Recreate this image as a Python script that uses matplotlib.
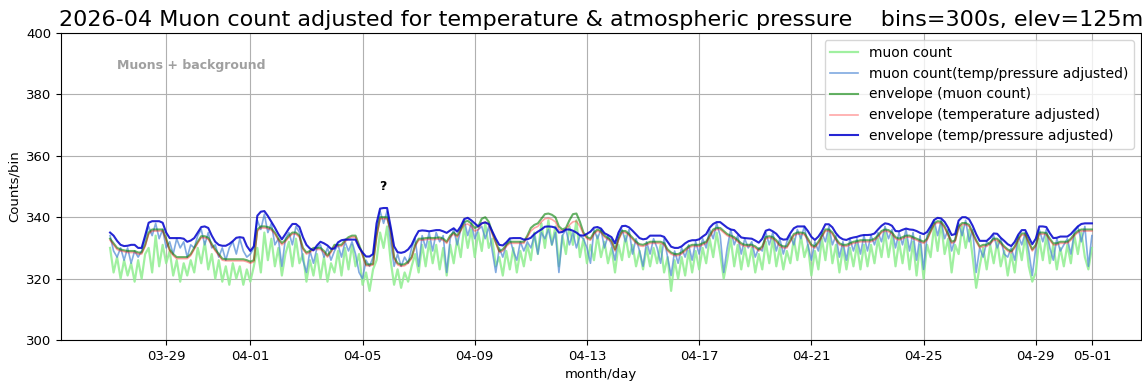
import matplotlib
matplotlib.use("Agg")
import matplotlib.pyplot as plt
import matplotlib.dates as mdates
import pandas as pd

# 3-hour samples, 2026-03-27 00:00 .. 2026-05-01 00:00 (one row per day)
times = pd.date_range("2026-03-27", "2026-05-01", freq="3h")

muon_count = [
    330, 322, 327, 320, 326, 321, 325, 319,
    326, 320, 328, 330, 322, 334, 324, 331,
    325, 329, 321, 326, 319, 325, 321, 326,
    322, 330, 325, 332, 323, 328, 320, 326,
    319, 324, 318, 325, 320, 324, 318, 323,
    319, 324, 330, 322, 335, 326, 333, 324,
    330, 321, 328, 332, 324, 333, 325, 328,
    319, 326, 321, 328, 320, 327, 319, 325,
    322, 329, 321, 330, 323, 331, 324, 328,
    318, 322, 316, 323, 326, 335, 330, 337,
    326, 318, 323, 317, 322, 319, 324, 328,
    322, 331, 324, 332, 325, 331, 323, 330,
    321, 331, 325, 333, 327, 337, 330, 336,
    327, 335, 329, 338, 330, 333, 324, 327,
    321, 329, 323, 330, 322, 329, 324, 331,
    326, 335, 328, 338, 330, 339, 331, 337,
    324, 334, 328, 337, 331, 339, 327, 333,
    325, 331, 326, 334, 327, 332, 325, 330,
    322, 331, 326, 334, 327, 331, 324, 329,
    323, 330, 324, 330, 325, 331, 322, 327,
    316, 326, 320, 327, 321, 329, 322, 329,
    323, 330, 325, 333, 327, 335, 328, 320,
    326, 333, 324, 331, 323, 330, 324, 330,
    322, 328, 323, 332, 325, 333, 324, 330,
    323, 329, 325, 333, 326, 334, 327, 331,
    321, 329, 323, 333, 326, 335, 325, 331,
    322, 330, 323, 330, 324, 331, 323, 331,
    324, 331, 325, 333, 327, 335, 327, 334,
    324, 332, 325, 333, 323, 332, 321, 331,
    320, 331, 327, 337, 329, 338, 328, 333,
    322, 331, 328, 337, 330, 336, 327, 317,
    324, 330, 323, 331, 325, 332, 324, 329,
    321, 328, 322, 332, 326, 334, 324, 319,
    322, 333, 326, 334, 325, 331, 323, 330,
    324, 331, 325, 334, 328, 335, 327, 323,
    330,
]

muon_adj = [
    334, 329, 327, 330, 326, 330, 325, 329,
    327, 329, 333, 337, 334, 338, 333, 336,
    330, 332, 328, 333, 330, 332, 327, 331,
    330, 334, 336, 331, 335, 330, 331, 327,
    330, 326, 330, 332, 328, 333, 329, 327,
    328, 330, 339, 336, 341, 335, 338, 331,
    333, 324, 333, 335, 331, 337, 335, 326,
    322, 329, 325, 330, 331, 327, 330, 326,
    329, 331, 327, 332, 329, 332, 328, 322,
    320, 326, 324, 327, 336, 342, 338, 342,
    332, 324, 328, 324, 327, 325, 330, 333,
    324, 334, 330, 335, 329, 335, 332, 334,
    322, 333, 336, 331, 336, 339, 334, 338,
    333, 336, 337, 333, 337, 329, 322, 330,
    327, 331, 333, 329, 326, 332, 329, 332,
    330, 334, 328, 335, 333, 336, 331, 335,
    322, 334, 336, 331, 335, 330, 334, 333,
    330, 325, 336, 333, 336, 330, 334, 331,
    326, 334, 336, 332, 336, 328, 333, 329,
    324, 332, 328, 333, 330, 325, 333, 327,
    321, 329, 325, 330, 327, 331, 326, 332,
    328, 333, 330, 336, 333, 338, 334, 322,
    330, 336, 331, 334, 328, 333, 330, 332,
    327, 330, 329, 335, 331, 335, 329, 333,
    328, 332, 334, 331, 336, 333, 337, 331,
    326, 332, 329, 335, 332, 337, 331, 334,
    327, 332, 326, 333, 329, 333, 328, 334,
    329, 334, 331, 335, 332, 337, 333, 336,
    330, 335, 331, 336, 329, 335, 326, 334,
    323, 334, 336, 339, 334, 339, 333, 336,
    329, 333, 338, 334, 339, 332, 336, 322,
    330, 327, 332, 331, 334, 330, 333, 328,
    327, 330, 326, 334, 331, 335, 329, 321,
    330, 336, 332, 336, 330, 326, 333, 329,
    331, 333, 328, 335, 337, 332, 337, 324,
    334,
]

env_muon = [
    333, 331.5, 330, 329.5, 329.2, 329, 329, 329,
    328.5, 328.5, 331, 335, 336, 336, 336, 336,
    333, 329.5, 328, 327, 327, 327, 327, 328,
    330, 332, 333.8, 333.8, 333.3, 331.3, 329.5, 328,
    326.5, 326.3, 326.3, 326.3, 326.3, 326.3, 326.3, 326,
    325.5, 326, 336, 337, 337, 336.8, 336.3, 335,
    333, 331.6, 332.5, 334, 335, 335, 334, 330,
    328.5, 329, 330, 330, 330, 329, 327.5, 329,
    331, 331, 331, 332.5, 333.5, 334, 334, 331,
    328, 324.6, 324.6, 324.8, 334, 340, 340, 340,
    336, 327, 325, 324.5, 324.7, 325.5, 327, 331,
    333, 333, 333.2, 333.3, 333.2, 333.3, 333.4, 333,
    332, 334, 335, 334, 336, 338.5, 338.8, 338,
    336.5, 337, 339.5, 340, 338.5, 335, 332, 329,
    329.5, 331, 332, 332, 332, 332, 332, 334,
    336.5, 337.5, 338, 339.5, 341, 341.2, 340.8, 340,
    337, 336, 336.5, 339, 341, 341.2, 338.5, 335,
    333.5, 333, 335, 336, 335.5, 334, 333.2, 332.5,
    329.5, 333, 335.5, 335.5, 334.5, 333.3, 332, 331.2,
    331, 331.5, 332, 332, 332, 332, 331.5, 329.5,
    328.5, 328, 328, 328.5, 329.5, 330.5, 331, 331,
    331, 331.5, 332, 334, 336, 336.5, 336.5, 335.5,
    334.5, 334, 333.5, 332.5, 331.5, 331, 331, 331,
    330.5, 329.5, 330.5, 333.5, 333.8, 333.5, 332.5, 331,
    330.5, 330.5, 332.5, 334.5, 335, 335, 334.8, 333,
    331, 330.5, 332, 334, 336, 336, 335, 333,
    331.5, 331, 331, 331.5, 332, 332.2, 332.5, 332.5,
    332.5, 332.5, 333, 334, 335.5, 336, 335.8, 335,
    333.5, 333, 333.5, 334, 334, 333.5, 333, 332.5,
    332, 333, 335.5, 338, 338.7, 338.5, 337, 334.5,
    332, 332.5, 337, 338.1, 338.1, 337.5, 335, 332.5,
    330.5, 331, 331, 331.8, 333, 333, 331.8, 330.5,
    329.5, 328.9, 330.5, 333, 334.7, 334.7, 332, 329.5,
    331, 335, 335, 334.8, 333, 331.5, 331.5, 332,
    332, 332, 333, 334.5, 335.5, 336, 336, 336,
    336,
]

env_temp = [
    332.5, 331, 329.5, 329, 328.8, 328.5, 328.5, 328.5,
    328, 328, 330.5, 334.5, 335.5, 335.5, 335.5, 335.5,
    332.5, 329, 327.5, 326.5, 326.5, 326.5, 326.5, 327.5,
    329.5, 331.5, 333.3, 333.3, 332.8, 330.8, 329, 327.5,
    326, 325.8, 325.8, 325.8, 325.8, 325.8, 325.8, 325.5,
    325, 325.5, 335.5, 336.5, 336.5, 336.3, 335.8, 334.5,
    332.5, 331, 332, 333.5, 334.5, 334.5, 333.5, 329.5,
    328, 328.5, 329.5, 329.5, 329.5, 328.5, 327, 328.5,
    330.5, 330.5, 330.5, 332, 333, 333.5, 333.5, 330.5,
    327.5, 324.2, 324.2, 324.4, 333.5, 339.5, 339.5, 339.5,
    335.5, 326.5, 324.5, 324, 324.2, 325, 326.5, 330.5,
    332.5, 332.5, 332.7, 332.8, 332.7, 332.8, 332.9, 332.5,
    331.5, 333.5, 334.5, 333.5, 335.5, 337.5, 337.8, 337,
    335.5, 336, 338, 338.5, 337.5, 334.5, 331.5, 328.5,
    329, 330.5, 331.5, 331.5, 331.5, 331.5, 331.5, 333.5,
    335.5, 336.5, 337, 338.5, 339.5, 339.7, 339.3, 338.5,
    336, 335.5, 336, 337.5, 338.5, 338.7, 337, 334.5,
    333, 332.5, 334.5, 335.5, 335, 333.5, 332.7, 332,
    329, 332.5, 335, 335, 334, 332.8, 331.5, 330.7,
    330.5, 331, 331.5, 331.5, 331.5, 331.5, 331, 329,
    328, 327.5, 327.5, 328, 329, 330, 330.5, 330.5,
    330.5, 331, 331.5, 333.5, 335.5, 336, 336, 335,
    334, 333.5, 333, 332, 331, 330.5, 330.5, 330.5,
    330, 329, 330, 333, 333.3, 333, 332, 330.5,
    330, 330, 332, 334, 334.5, 334.5, 334.3, 332.5,
    330.5, 330, 331.5, 333.5, 335.5, 335.5, 334.5, 332.5,
    331, 330.5, 330.5, 331, 331.5, 331.7, 332, 332,
    332, 332, 332.5, 333.5, 335, 335.5, 335.3, 334.5,
    333, 332.5, 333, 333.5, 333.5, 333, 332.5, 332,
    331.5, 332.5, 335, 337.5, 338.2, 338, 336.5, 334,
    331.5, 332, 336.5, 337.6, 337.6, 337, 334.5, 332,
    330, 330.5, 330.5, 331.3, 332.5, 332.5, 331.3, 330,
    329, 328.4, 330, 332.5, 334.2, 334.2, 331.5, 329,
    330.5, 334.5, 334.5, 334.3, 332.5, 331, 331, 331.5,
    331.5, 331.5, 332.5, 334, 335, 335.5, 335.5, 335.5,
    335.5,
]

env_tp = [
    335, 334, 332.3, 331, 330.6, 330.7, 331, 331,
    330, 330, 334, 338.2, 338.7, 338.7, 338.7, 338.2,
    335, 333.2, 333.2, 333.2, 333.2, 333, 332, 332.4,
    333.2, 335, 336.8, 337, 336.5, 334, 332, 331,
    330.7, 330.7, 331.3, 332.2, 333.3, 333.5, 333.3, 330.6,
    329, 330.5, 340.5, 341.8, 342, 340.4, 338.5, 336.6,
    334.5, 332.8, 334.5, 336.3, 337.8, 337.8, 336.8, 333.5,
    331, 329.8, 329.2, 330.8, 332, 331.5, 330.8, 329.7,
    329.8, 331.8, 332.5, 332.7, 332.7, 332.7, 332.7, 330.2,
    328.5, 327.2, 327.2, 328, 338, 342.8, 343, 343,
    337, 330.5, 328.6, 328.4, 328.7, 329.5, 331, 333.5,
    335.5, 335.7, 335.6, 335.4, 335.6, 335.8, 335.8, 335.4,
    334.9, 335.7, 336.4, 335.3, 337, 339.4, 339.8, 339,
    338, 337, 338, 338.3, 337.8, 335.4, 333, 331,
    330.8, 331.8, 333.1, 333.2, 333.2, 333.2, 332.7, 332.8,
    333.3, 334.5, 335.3, 336, 336.9, 337, 336.9, 336.6,
    335, 335.2, 336, 336, 335.6, 335, 334.1, 334,
    334.6, 335.3, 336.6, 336.8, 336.3, 334.8, 334.2, 333.5,
    331.5, 335, 337.1, 337.2, 336.7, 335.6, 334.4, 333.2,
    332.8, 333, 334, 334, 334, 334, 333.6, 332,
    330.4, 330, 330, 330.5, 331.5, 332.2, 332.5, 332.5,
    332.8, 333.7, 334.5, 336.6, 337.8, 338.4, 338.4, 337.5,
    336.6, 336, 335.8, 334.6, 333.4, 333.2, 333.1, 333,
    332.4, 331.7, 333, 335.6, 336, 335.4, 334.6, 333.2,
    332.7, 332.8, 334.8, 336.4, 337, 337, 337, 335.5,
    333.6, 332.6, 333.7, 335.4, 337.7, 337.7, 336.7, 334.8,
    333.5, 332.8, 332.6, 333.1, 333.4, 333.6, 334, 334.2,
    334.2, 334.3, 334.7, 336, 337.2, 338, 337.8, 337.2,
    335.5, 335.4, 335.9, 336.3, 336, 335.9, 335.5, 334.9,
    334.5, 335.2, 337, 339.1, 339.8, 339.6, 338.5, 336.6,
    334.2, 334.5, 338.9, 340, 340, 339.3, 337.2, 334.5,
    332.3, 332.3, 332.3, 333.3, 334.7, 334.6, 333.3, 332.3,
    331.2, 330.6, 332, 334.3, 335.8, 335.8, 333.5, 331.2,
    333, 337, 337, 336.8, 334.8, 333.2, 333.3, 333.7,
    333.7, 333.7, 334.5, 335.8, 337, 337.8, 338, 338,
    338,
]

spike_time = pd.Timestamp("2026-04-05 17:30")

fig = plt.figure(figsize=(11.42, 3.89), dpi=100)
ax = fig.add_axes([0.0534, 0.126, 0.9457, 0.789])

ax.plot(times, muon_count, color="lightgreen", alpha=0.85, lw=1.6, label="muon count")
ax.plot(times, muon_adj, color="#4a86d4", alpha=0.7, lw=1.2,
        label="muon count(temp/pressure adjusted)")
ax.plot(times, env_muon, color="green", alpha=0.6, lw=1.5, label="envelope (muon count)")
ax.plot(times, env_temp, color="red", alpha=0.35, lw=1.2,
        label="envelope (temperature adjusted)")
ax.plot(times, env_tp, color="mediumblue", alpha=0.85, lw=1.5,
        label="envelope (temp/pressure adjusted)")

ax.set_ylim(300, 400)
ax.set_yticks(range(300, 401, 20))
ax.xaxis.set_major_locator(mdates.DayLocator(bymonthday=[1, 5, 9, 13, 17, 21, 25, 29]))
ax.xaxis.set_major_formatter(mdates.DateFormatter("%m-%d"))
ax.tick_params(labelsize=9.5)
ax.grid(True)

ax.set_xlabel("month/day", fontsize=9.5)
ax.set_ylabel("Counts/bin", fontsize=9.5)
ax.set_title("2026-04 Muon count adjusted for temperature & atmospheric pressure"
             "    bins=300s, elev=125m", fontsize=16, pad=5)

ax.text(0.052, 0.895, "Muons + background", transform=ax.transAxes,
        fontsize=9, fontweight="bold", color="#a0a0a0", va="center")
ax.text(spike_time, 349, "?", fontsize=9, fontweight="bold", ha="center")

ax.legend(loc="upper right", fontsize=10)

fig.savefig("out.png", dpi=100)
